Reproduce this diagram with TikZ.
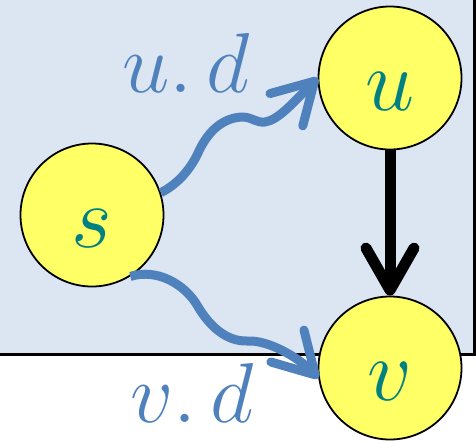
\RequirePackage{fix-cm}
\documentclass[tikz,border=0pt]{standalone}
\usetikzlibrary{arrows.meta}
\definecolor{paneblue}{HTML}{DCE6F2}
\definecolor{nodeyellow}{HTML}{FFFF66}
\definecolor{letterteal}{HTML}{008080}
\definecolor{pathblue}{HTML}{4F81BD}
\begin{document}
\begin{tikzpicture}[x=1pt, y=-1pt,
  vx/.style={circle, draw, line width=1.8pt, fill=nodeyellow, minimum size=143pt,
             inner sep=0pt, text=letterteal, text height=65pt, text depth=0pt,
             font=\fontsize{88}{88}\selectfont},
  lb/.style={anchor=base, text=pathblue, font=\fontsize{85}{85}\selectfont},
  wv/.style={draw=pathblue, line width=9pt, -{Straight Barb[length=40pt, width=46pt, round]}},
  ar/.style={line width=11pt, -{Straight Barb[length=42pt, width=48pt, round]}}]
\useasboundingbox (0,0) rectangle (476,440);
\draw[fill=paneblue, line width=3pt] (-10,-10) rectangle (474.5,354);
\node[vx] (s) at (92,215) {$s$};
\node[vx] (u) at (390,78) {$u$};
\node[vx] (v) at (390,368) {$v$};
\node[lb] (ud) at (186,92) {$u.\,d$};
\node[lb] (vd) at (192,422) {$v.\,d$};
\draw[wv] (s.18) .. controls (180,183) and (192,166) .. (198,153)
  .. controls (206,135) and (220,118) .. (242,117)
  .. controls (252,117) and (256,123) .. (265,122)
  .. controls (278,120) and (292,104) .. (u.west);
\draw[wv] (s.-58) .. controls (158,268) and (185,285) .. (197,305)
  .. controls (208,324) and (225,342) .. (248,341)
  .. controls (268,340) and (298,357) .. (v.188);
\draw[ar] (u) -- (v);
\end{tikzpicture}
\end{document}
